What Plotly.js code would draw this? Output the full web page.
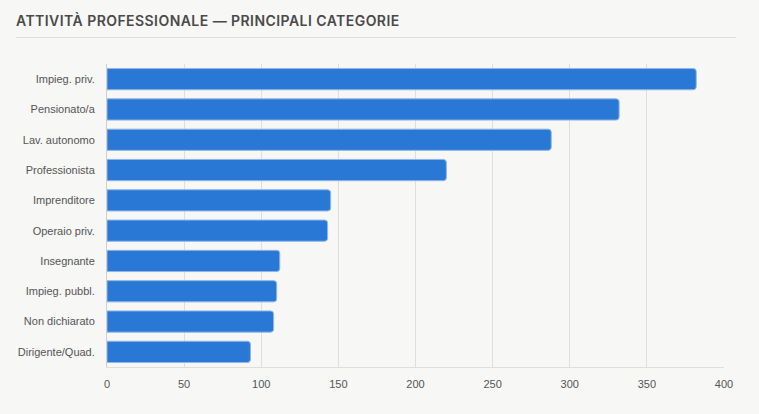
<!DOCTYPE html>
<html>
<head>
<meta charset="utf-8">
<script src="https://cdn.plot.ly/plotly-3.0.1.min.js"></script>
<style>
  html, body { margin: 0; padding: 0; background: #f7f7f5; }
  #wrap { position: relative; width: 759px; height: 414px; }
  #chart { width: 759px; height: 414px; }
  #titolo {
    position: absolute; left: 16px; top: 12px;
    font-family: Inter, sans-serif; font-weight: 600; font-size: 14px;
    letter-spacing: 0.032em; color: #4a4a4a; line-height: 18px;
    white-space: nowrap;
  }
  #riga {
    position: absolute; left: 16px; top: 37px; width: 720px; height: 1px;
    background: #dededa;
  }
</style>
</head>
<body>
<div id="wrap">
  <div id="chart"></div>
  <div id="titolo">ATTIVITÀ PROFESSIONALE — PRINCIPALI CATEGORIE</div>
  <div id="riga"></div>
</div>
<script>
// categorie, dall'alto verso il basso
const categorie = ["Impieg. priv.", "Pensionato/a", "Lav. autonomo", "Professionista", "Imprenditore",
  "Operaio priv.", "Insegnante", "Impieg. pubbl.", "Non dichiarato", "Dirigente/Quad."]
const conteggi = [382, 332, 288, 220, 145, 143, 112, 110, 108, 93]
const xTicks = [0, 50, 100, 150, 200, 250, 300, 350, 400]

const trace = {
  type: 'bar',
  orientation: 'h',
  y: categorie,
  x: conteggi,
  marker: {
    color: '#2978d6',
    line: { color: '#8fb6e8', width: 1 },
    cornerradius: 3
  },
  hoverinfo: 'none'
}

const layout = {
  width: 759,
  height: 414,
  margin: { l: 107, r: 35, t: 64, b: 47 },
  paper_bgcolor: '#f7f7f5',
  plot_bgcolor: '#f7f7f5',
  bargap: 0.3,
  showlegend: false,
  font: { family: '"Liberation Sans", Arial, sans-serif', size: 11, color: '#555' },
  xaxis: {
    range: [0, 400],
    tickvals: xTicks,
    ticktext: xTicks.map(String),
    showgrid: true,
    gridcolor: '#dededa',
    gridwidth: 1,
    zeroline: false,
    showline: true,
    linecolor: '#dededa',
    ticks: '',
    ticklabelstandoff: 7,
    fixedrange: true
  },
  yaxis: {
    autorange: 'reversed',
    showgrid: false,
    zeroline: false,
    showline: true,
    linecolor: '#cfcfcb',
    ticks: '',
    ticklabelstandoff: 9,
    fixedrange: true
  }
}

Plotly.newPlot('chart', [trace], layout, { displayModeBar: false, staticPlot: true })
</script>
</body>
</html>
